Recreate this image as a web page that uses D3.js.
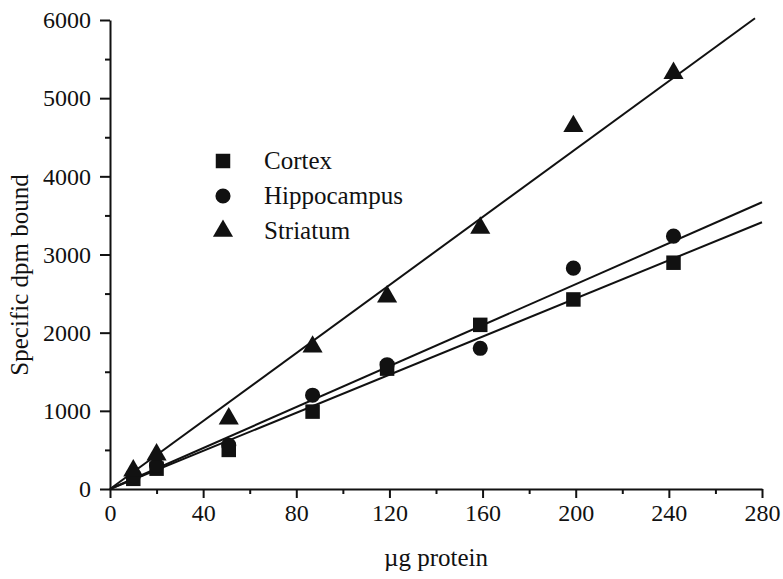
<!DOCTYPE html>
<html><head><meta charset="utf-8">
<script src="https://cdn.jsdelivr.net/npm/d3@7"></script>
<style>
html,body{margin:0;padding:0;background:#fff;}
svg text{font-family:"Liberation Serif","Times New Roman",serif !important;fill:#111;}
</style></head>
<body><svg id="c" width="783" height="579"></svg>
<script>
// ---- data ----
const proteinUg = [10, 20, 51, 87, 119, 159, 199, 242];
const seriesNames = ["Cortex", "Hippocampus", "Striatum"];
const cortex      = [130, 260, 500, 990, 1540, 2100, 2425, 2895];
const hippocampus = [170, 300, 560, 1200, 1590, 1800, 2825, 3235];
const striatum    = [235, 440, 900, 1820, 2460, 3340, 4640, 5320];
const fitSlopes = [12.19, 13.1, 21.74];   // dpm per ug, lines through origin
const fitXmax   = [280, 280, 277];
const xTicks = [0, 40, 80, 120, 160, 200, 240, 280];
const yTicks = [0, 1000, 2000, 3000, 4000, 5000, 6000];

const svg = d3.select("#c");
const x = d3.scaleLinear().domain([0, 280]).range([110, 762]);
const y = d3.scaleLinear().domain([0, 6000]).range([489, 20]);
const ink = "#111";
const serif = '"Liberation Serif","Times New Roman",serif';

// axes
const xAxis = d3.axisBottom(x).tickValues(xTicks).tickFormat(d3.format("d"))
  .tickSize(9).tickSizeOuter(0).tickPadding(6);
const xMinor = d3.axisBottom(x).tickValues(d3.range(20, 280, 40)).tickSize(5).tickFormat("");
const yAxis = d3.axisLeft(y).tickValues(yTicks).tickFormat(d3.format("d"))
  .tickSize(10).tickSizeOuter(0).tickPadding(9);
const yMinor = d3.axisLeft(y).tickValues(d3.range(500, 6000, 1000)).tickSize(5).tickFormat("");

function style(g){
  g.attr("font-family", serif).attr("font-size", 24);
  g.select(".domain").attr("stroke", ink).attr("stroke-width", 2);
  g.selectAll(".tick line").attr("stroke", ink).attr("stroke-width", 2);
  g.selectAll(".tick text").style("font-size", "24px").attr("fill", ink).style("font-family", serif);
}
svg.append("g").attr("transform","translate(0,489)").call(xMinor).call(style).select(".domain").remove();
svg.append("g").attr("transform","translate(110,0)").call(yMinor).call(style).select(".domain").remove();
svg.append("g").attr("transform","translate(0,489)").call(xAxis).call(style);
svg.append("g").attr("transform","translate(110,0)").call(yAxis).call(style);

// axis titles
svg.append("text").attr("x", 436).attr("y", 566).attr("text-anchor","middle")
  .style("font-size", "25px").text("µg protein");
svg.append("text").attr("transform","translate(28,275) rotate(-90)").attr("text-anchor","middle")
  .style("font-size", "25px").text("Specific dpm bound");

// fit lines
const line = d3.line().x(d => x(d[0])).y(d => y(d[1]));
fitSlopes.forEach((s, i) => {
  svg.append("path").datum([[0, 0], [fitXmax[i], s * fitXmax[i]]])
    .attr("d", line).attr("fill","none").attr("stroke", ink).attr("stroke-width", 2);
});

// markers
const symbols = [d3.symbol().type(d3.symbolSquare).size(210),
                 d3.symbol().type(d3.symbolCircle).size(180),
                 d3.symbol().type(d3.symbolTriangle).size(175)];
const allSeries = [cortex, hippocampus, striatum];
allSeries.forEach((vals, i) => {
  svg.append("g").selectAll("path").data(vals).join("path")
    .attr("d", symbols[i])
    .attr("transform", (d, j) => `translate(${x(proteinUg[j])},${y(d)})`)
    .attr("fill", ink);
});

// legend
const lg = svg.append("g");
seriesNames.forEach((name, i) => {
  const cy = 161 + i * 35;
  lg.append("path").attr("d", symbols[i]).attr("transform", `translate(223,${cy})`).attr("fill", ink);
  lg.append("text").attr("x", 264).attr("y", cy + 8).style("font-size", "25px").text(name);
});
</script></body></html>
